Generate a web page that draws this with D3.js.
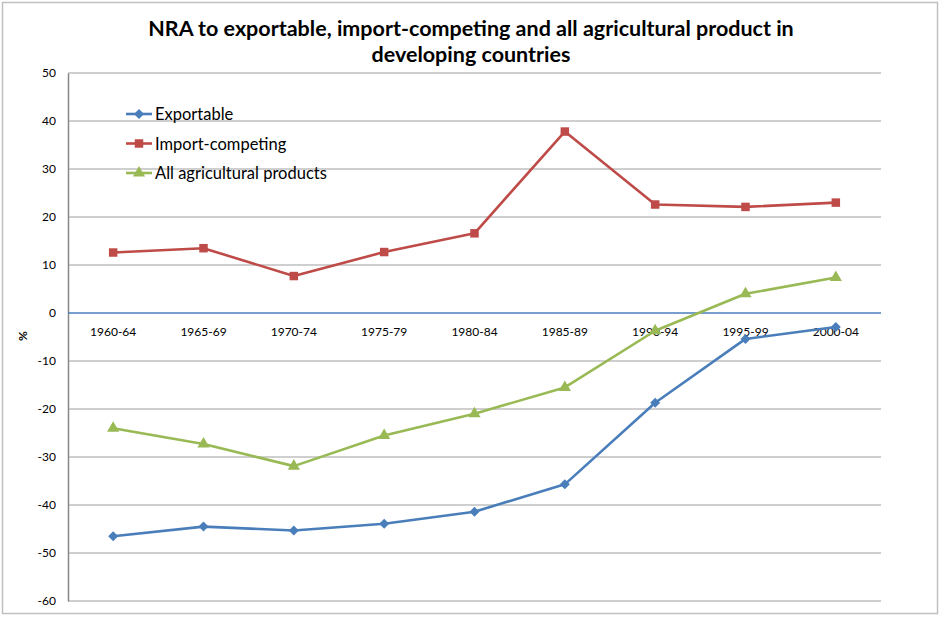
<!DOCTYPE html>
<html>
<head>
<meta charset="utf-8">
<script src="https://cdn.jsdelivr.net/npm/d3@7"></script>
<style>
  html, body { margin: 0; padding: 0; background: #fff; }
  svg { display: block; }
</style>
</head>
<body>
<svg id="chart" width="941" height="617"></svg>
<script>
// Periods on the horizontal axis
const periods = ["1960-64", "1965-69", "1970-74", "1975-79", "1980-84", "1985-89", "1990-94", "1995-99", "2000-04"];
// Nominal rate of assistance, %
const exportable = [-46.5, -44.5, -45.3, -43.9, -41.4, -35.7, -18.7, -5.4, -2.9];
const importCompeting = [12.6, 13.5, 7.7, 12.7, 16.6, 37.8, 22.6, 22.1, 23.0];
const allProducts = [-24.0, -27.3, -31.9, -25.5, -21.0, -15.5, -3.7, 4.0, 7.4];
const yTicks = [50, 40, 30, 20, 10, 0, -10, -20, -30, -40, -50, -60];
const seriesNames = ["Exportable", "Import-competing", "All agricultural products"];

// square rotated 45 degrees (equal width and height)
const rhombus = {
  draw(ctx, size) {
    const r = Math.sqrt(size / 2);
    ctx.moveTo(0, -r); ctx.lineTo(r, 0); ctx.lineTo(0, r); ctx.lineTo(-r, 0); ctx.closePath();
  }
};

const series = [
  { name: seriesNames[0], values: exportable, color: "#4A7EBB", symbol: rhombus, size: 50 },
  { name: seriesNames[1], values: importCompeting, color: "#BE4B48", symbol: d3.symbolSquare, size: 72 },
  { name: seriesNames[2], values: allProducts, color: "#98B954", symbol: d3.symbolTriangle, size: 64 }
];

const svg = d3.select("#chart");
const font = "Lato, 'Open Sans', sans-serif";

// outer frame
svg.append("rect")
  .attr("x", 2.5).attr("y", 2.5).attr("width", 935).attr("height", 611)
  .attr("fill", "#fff").attr("stroke", "#c0c0c0").attr("stroke-width", 1.5);

const plot = { left: 68, right: 881, top: 73, bottom: 601 };

const x = d3.scaleBand().domain(periods).range([plot.left, plot.right]);
const y = d3.scaleLinear().domain([-60, 50]).range([plot.bottom, plot.top]);
const cx = p => x(p) + x.bandwidth() / 2;

// title
const title = svg.append("text")
  .attr("text-anchor", "middle")
  .attr("font-family", font).attr("font-weight", "bold").attr("font-size", 21.5)
  .attr("fill", "#000");
title.append("tspan").attr("x", 471).attr("y", 36).text("NRA to exportable, import-competing and all agricultural product in");
title.append("tspan").attr("x", 471).attr("y", 62).text("developing countries");

// horizontal gridlines
svg.append("g")
  .selectAll("line")
  .data(yTicks.filter(t => t !== 0))
  .join("line")
  .attr("x1", plot.left).attr("x2", plot.right)
  .attr("y1", d => y(d)).attr("y2", d => y(d))
  .attr("stroke", "#bfbfbf").attr("stroke-width", 1.5);

// vertical axis
const yAxis = d3.axisLeft(y).tickValues(yTicks).tickSize(0).tickPadding(12).tickFormat(d => String(d));
const yg = svg.append("g").attr("transform", `translate(${plot.left},0)`).call(yAxis);
yg.select(".domain").attr("stroke", "#868686").attr("stroke-width", 1.5);
yg.selectAll("text").attr("font-family", font).attr("font-size", 12).attr("fill", "#000");

// zero baseline
svg.append("line")
  .attr("x1", plot.left).attr("x2", plot.right)
  .attr("y1", y(0)).attr("y2", y(0))
  .attr("stroke", "#4A7EBB").attr("stroke-width", 1.3);

// category labels sit just under the baseline
const xAxis = d3.axisBottom(x).tickSize(0).tickPadding(14);
const xg = svg.append("g").attr("transform", `translate(0,${y(0)})`).call(xAxis);
xg.select(".domain").remove();
xg.selectAll("text").attr("font-family", font).attr("font-size", 12).attr("fill", "#000");

// axis title
svg.append("text")
  .attr("transform", "translate(27,336) rotate(-90)")
  .attr("text-anchor", "middle")
  .attr("font-family", font).attr("font-weight", "bold").attr("font-size", 12)
  .text("%");

// series lines and markers
const line = d3.line().x((d, i) => cx(periods[i])).y(d => y(d));
series.forEach(s => {
  const g = svg.append("g");
  g.append("path")
    .attr("d", line(s.values))
    .attr("fill", "none").attr("stroke", s.color)
    .attr("stroke-width", 2.6).attr("stroke-linejoin", "round");
  g.selectAll("path.m")
    .data(s.values)
    .join("path")
    .attr("class", "m")
    .attr("transform", (d, i) => `translate(${cx(periods[i])},${y(d)})`)
    .attr("d", d3.symbol().type(s.symbol).size(s.size))
    .attr("fill", s.color);
});

// legend
const legend = svg.append("g").attr("transform", "translate(126,114)");
series.forEach((s, i) => {
  const row = legend.append("g").attr("transform", `translate(0,${i * 29.5})`);
  row.append("line").attr("x1", 0).attr("x2", 26).attr("y1", 0).attr("y2", 0)
    .attr("stroke", s.color).attr("stroke-width", 2.6);
  row.append("path").attr("transform", "translate(13,0)")
    .attr("d", d3.symbol().type(s.symbol).size(s.size)).attr("fill", s.color);
  row.append("text").attr("x", 29).attr("y", 6)
    .attr("font-family", font).attr("font-size", 16.5).attr("fill", "#000")
    .text(s.name);
});
</script>
</body>
</html>
